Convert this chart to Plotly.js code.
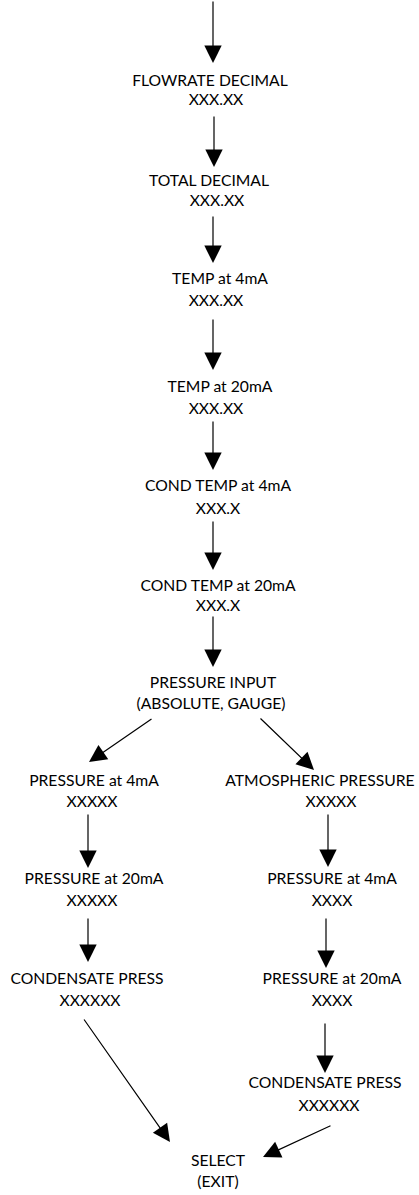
<!DOCTYPE html>
<html>
<head>
<meta charset="utf-8">
<script src="https://cdn.plot.ly/plotly-3.0.1.min.js"></script>
<style>html,body{margin:0;padding:0;background:#fff;}#chart{width:419px;height:1195px;}</style>
</head>
<body>
<div id="chart"></div>
<script>
// Node texts
const labels = ["FLOWRATE DECIMAL","TOTAL DECIMAL","TEMP at 4mA","TEMP at 20mA","COND TEMP at 4mA","COND TEMP at 20mA","PRESSURE INPUT","PRESSURE at 4mA","ATMOSPHERIC PRESSURE","PRESSURE at 20mA","PRESSURE at 4mA","CONDENSATE PRESS","PRESSURE at 20mA","CONDENSATE PRESS","SELECT"];
const values = ["XXX.XX","XXX.XX","XXX.XX","XXX.XX","XXX.X","XXX.X","(ABSOLUTE, GAUGE)","XXXXX","XXXXX","XXXXX","XXXX","XXXXXX","XXXX","XXXXXX","(EXIT)"];
// Node positions (diagram coordinates)
const labelX = [210,209,220,220,218,218,213,94,320,94,332,87,332,325,218];
const labelY = [82,182,280,388,487,587,684,782,782,880,880,980,980,1084,1162];
const valueX = [216,217,216,216,218,218,211,92,331,92,332,90,332,329,218];
const valueY = [101,202,302,410,510,607,705,803,803,902,902,1002,1002,1107,1183];
// Arrows: tail -> tip
const arrowFromX = [213,214,213,213,213,213,213,153,259,88,328,88,326,325,83,332];
const arrowFromY = [0,115,215,318,420,520,615,718,717,813,813,917,917,1022,1018,1125];
const arrowToX   = [213,214,213,213,213,213,213,89,314,88,328,88,326,325,170,263];
const arrowToY   = [63,167,263,370,470,570,667,762,770,868,867,962,968,1073,1142,1157];

const font = {family: "Lato, 'Open Sans', sans-serif", size: 15.7, color: "#000"};

const traces = [
  {type:"scatter", mode:"text", x: labelX, y: labelY, text: labels, textposition:"middle center", textfont: font, hoverinfo:"skip", showlegend:false, cliponaxis:false},
  {type:"scatter", mode:"text", x: valueX, y: valueY, text: values, textposition:"middle center", textfont: font, hoverinfo:"skip", showlegend:false, cliponaxis:false}
];

const annotations = arrowFromX.map((_, i) => ({
  x: arrowToX[i], y: arrowToY[i], ax: arrowFromX[i], ay: arrowFromY[i],
  xref:"x", yref:"y", axref:"x", ayref:"y",
  text:"", showarrow:true, arrowhead:2, arrowsize:2.9, arrowwidth:1.2, arrowcolor:"#000"
}));

const layout = {
  width:419, height:1195,
  margin:{l:0,r:0,t:0,b:0},
  paper_bgcolor:"#fff", plot_bgcolor:"#fff",
  xaxis:{range:[0,419], visible:false, fixedrange:true},
  yaxis:{range:[1195,0], visible:false, fixedrange:true},
  annotations: annotations,
  showlegend:false
};

Plotly.newPlot("chart", traces, layout, {staticPlot:true, displayModeBar:false});
</script>
</body>
</html>
